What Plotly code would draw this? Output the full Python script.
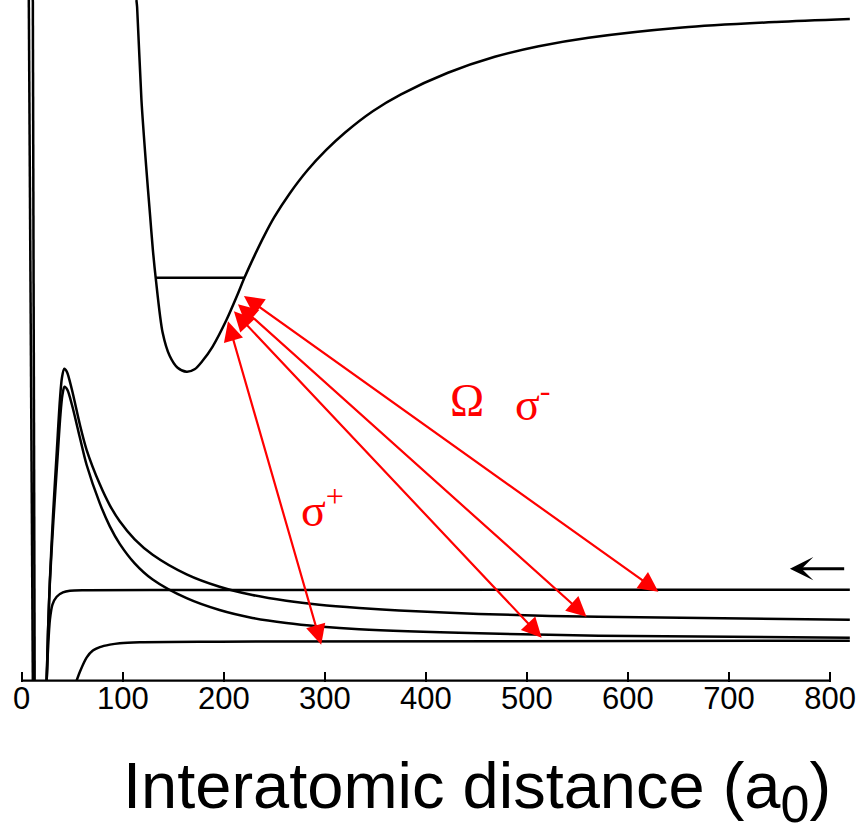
import plotly.graph_objects as go

# ---- data (x in Bohr radii a0, energy in arbitrary units) ----
wall1_x = [7.0, 11.0]
wall1_e = [100.0, 0.0]
wall2_x = [11.0, 12.8]
wall2_e = [100.0, 0.0]

hump_outer_x = [24.7, 26.0, 27.9, 30.9, 34.8, 37.8, 39.8, 42.1, 44.7, 49.7, 57.6, 64.2, 77.3, 87.2, 97.0,
                111.8, 129.6, 163.2, 195.8, 228.3, 261.9, 294.5, 334.0, 373.5, 452.4, 570.9, 819.6]
hump_outer_e = [0.0, 7.05, 14.83, 24.08, 33.92, 41.26, 44.49, 45.81, 45.37, 42.73, 37.59, 33.92, 28.84, 25.76, 23.41,
                20.76, 18.50, 15.62, 13.80, 12.58, 11.73, 11.15, 10.68, 10.32, 9.79, 9.37, 8.96]

hump_inner_x = [24.7, 26.0, 27.9, 31.4, 35.3, 38.3, 40.3, 42.3, 45.2, 49.7, 57.6, 64.2, 77.3, 87.2, 97.0,
                111.8, 129.6, 163.2, 195.8, 228.3, 261.9, 294.5, 334.0, 452.4, 570.9, 819.6]
hump_inner_e = [0.0, 7.05, 14.54, 23.64, 32.45, 39.06, 41.99, 43.17, 42.73, 40.53, 35.68, 31.72, 26.05, 22.67, 20.10,
                17.24, 14.86, 12.11, 10.37, 9.21, 8.46, 7.97, 7.56, 6.95, 6.61, 6.31]

flat_a_x = [24.7, 26.0, 27.9, 30.4, 34.6, 40.8, 47.7, 64.5, 126.7, 819.6]
flat_a_e = [0.0, 4.55, 8.96, 11.16, 12.33, 12.97, 13.22, 13.29, 13.33, 13.36]

flat_b_x = [54.3, 57.6, 64.2, 70.4, 77.3, 87.2, 97.0, 116.8, 195.8, 819.6]
flat_b_e = [0.0, 1.32, 3.38, 4.41, 4.92, 5.29, 5.51, 5.65, 5.73, 5.87]

upper_x = [113.5, 114.2, 118.5, 123.2, 127.0, 129.8, 132.6, 139.5, 146.4, 154.3, 163.2, 171.1, 179.0,
           188.8, 202.7, 213.5, 220.4, 230.3, 240.2, 250.1, 264.9, 282.6, 301.4, 320.1, 347.8, 375.4,
           421.8, 468.2, 511.7, 561.0, 653.8, 746.6, 819.6]
upper_e = [100.0, 98.97, 85.31, 75.48, 68.43, 63.29, 59.18, 51.10, 47.72, 45.96, 45.37, 45.74, 46.99,
           49.04, 53.01, 56.68, 59.18, 62.41, 65.42, 68.13, 71.51, 74.95, 77.97, 80.54, 83.70, 86.14,
           89.31, 91.66, 93.21, 94.46, 95.97, 96.78, 97.22]

level_x = [132.6, 220.4]
level_e = [59.18, 59.18]

# transitions (upper end, lower end)
arrow_top_x = [203.7, 208.6, 212.5, 218.4]
arrow_top_e = [53.01, 54.48, 55.51, 56.68]
arrow_bot_x = [296.4, 514.6, 559.0, 630.1]
arrow_bot_e = [5.29, 6.31, 9.40, 13.07]

tick_vals = [0, 100, 200, 300, 400, 500, 600, 700, 800]
tick_text = ["0", "100", "200", "300", "400", "500", "600", "700", "800"]

labels_text = ["Ω", "σ<sup>-</sup>", "σ<sup>+</sup>"]
labels_x = [440.6, 505.7, 297.4]
labels_e = [41.1, 41.1, 25.5]

incoming_x = [815.5, 760.3]
incoming_e = [16.45, 16.45]

axis_title = "Interatomic distance (a<sub><span style='font-size:52px'>0</span></sub>)"

# ---- figure ----
fig = go.Figure()
curves = [
    (wall1_x, wall1_e, "linear"),
    (wall2_x, wall2_e, "linear"),
    (hump_outer_x, hump_outer_e, "spline"),
    (hump_inner_x, hump_inner_e, "spline"),
    (flat_a_x, flat_a_e, "spline"),
    (flat_b_x, flat_b_e, "spline"),
    (upper_x, upper_e, "spline"),
    (level_x, level_e, "linear"),
]
for cx, ce, shp in curves:
    fig.add_trace(go.Scatter(x=cx, y=ce, mode="lines",
                             line=dict(color="black", width=2.5, shape=shp, smoothing=0.8),
                             hoverinfo="skip", showlegend=False))

annotations = []
for tx, te, bx, be in zip(arrow_top_x, arrow_top_e, arrow_bot_x, arrow_bot_e):
    annotations.append(dict(x=bx, y=be, ax=tx, ay=te, xref="x", yref="y", axref="x", ayref="y",
                            text="", showarrow=True, arrowside="end+start",
                            arrowhead=2, startarrowhead=2, arrowsize=1.8, startarrowsize=1.8,
                            arrowwidth=2.2, arrowcolor="#ff0000", standoff=0, startstandoff=0))

annotations.append(dict(x=incoming_x[1], y=incoming_e[1], ax=incoming_x[0], ay=incoming_e[0],
                        xref="x", yref="y", axref="x", ayref="y", text="", showarrow=True,
                        arrowhead=3, arrowsize=1.3, arrowwidth=3, arrowcolor="black", standoff=0))

for t, lx, le in zip(labels_text, labels_x, labels_e):
    annotations.append(dict(x=lx, y=le, xref="x", yref="y", text=t, showarrow=False,
                            font=dict(family="Liberation Serif", size=46, color="#ff0000")))

annotations.append(dict(x=476.5 / 857, y=-0.16, xref="paper", yref="paper",
                        text=axis_title, showarrow=False,
                        xanchor="center", yanchor="middle",
                        font=dict(family="Liberation Sans", size=65, color="black")))

fig.update_layout(
    width=857, height=839,
    margin=dict(l=0, r=0, t=0, b=157),
    paper_bgcolor="white", plot_bgcolor="white",
    showlegend=False,
    annotations=annotations,
    shapes=[dict(type="line", xref="x", yref="y", x0=0, x1=800, y0=0, y1=0,
                 line=dict(color="black", width=2.2))],
    xaxis=dict(range=[-21.5, 826.7], showgrid=False, zeroline=False, showline=False,
               ticks="inside", ticklen=10, tickwidth=2, tickcolor="black",
               tickvals=tick_vals, ticktext=tick_text, ticklabelstandoff=-5,
               tickfont=dict(family="Liberation Sans", size=31, color="black")),
    yaxis=dict(range=[-0.2, 100], visible=False, showgrid=False, zeroline=False),
)

fig.write_html("out.html")
